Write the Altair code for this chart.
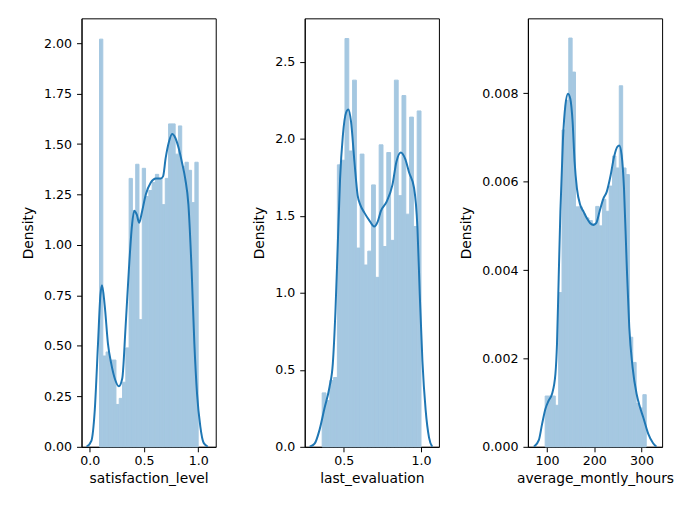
import altair as alt
import pandas as pd

# ---- histogram densities (equal-width bins over each variable's range) ----
sat_range = (0.09, 1.0)
sat_density = [2.02, 0.45, 0.47, 0.43, 0.43, 0.21, 0.24, 0.32, 0.49, 1.33,
               1.17, 1.40, 0.63, 1.38, 1.24, 1.27, 1.31, 1.35, 1.33, 1.20,
               1.33, 1.60, 1.60, 1.45, 1.59, 1.39, 1.41, 1.37, 1.21, 1.41]

eval_range = (0.36, 1.0)
eval_density = [0.35, 0.30, 0.43, 0.45, 1.83, 1.86, 2.65, 1.92, 2.38, 1.29,
                1.90, 1.18, 1.27, 1.70, 1.10, 1.96, 1.30, 1.91, 1.34, 2.38,
                1.63, 2.28, 1.51, 2.14, 1.43, 2.18]

hours_range = (96, 310)
hours_density = [0.00115, 0.00115, 0.00115, 0.00094, 0.00349, 0.00717, 0.00784,
                 0.00925, 0.00848, 0.00543, 0.00543, 0.00527, 0.00518, 0.00512,
                 0.00505, 0.00544, 0.00500, 0.00560, 0.00533, 0.00590, 0.00658,
                 0.00631, 0.00817, 0.00631, 0.00616, 0.00248, 0.00191, 0.00098,
                 0.00088, 0.00118]

# ---- kernel density estimate curves ----
sat_kde_x = [-0.03, 0.015, 0.046, 0.076, 0.098, 0.113, 0.138, 0.168, 0.199, 0.23,
             0.269, 0.30, 0.33, 0.36, 0.39, 0.41, 0.434, 0.456, 0.48, 0.517,
             0.563, 0.609, 0.655, 0.676, 0.70, 0.73, 0.76, 0.79, 0.82, 0.85,
             0.88, 0.91, 0.94, 0.965, 0.99, 1.02, 1.05, 1.09]
sat_kde_y = [0.0, 0.03, 0.18, 0.51, 0.75, 0.80, 0.70, 0.51, 0.41, 0.34,
             0.30, 0.34, 0.59, 0.87, 1.10, 1.17, 1.15, 1.11, 1.16, 1.25,
             1.31, 1.33, 1.33, 1.34, 1.43, 1.51, 1.55, 1.53, 1.48, 1.41,
             1.33, 1.20, 0.87, 0.51, 0.26, 0.10, 0.02, 0.0]

eval_kde_x = [0.279, 0.311, 0.343, 0.375, 0.408, 0.429, 0.446, 0.461, 0.476, 0.494,
              0.515, 0.53, 0.547, 0.569, 0.59, 0.607, 0.633, 0.665, 0.697, 0.719,
              0.74, 0.777, 0.815, 0.841, 0.869, 0.897, 0.923, 0.955, 0.977, 0.992,
              1.009, 1.03, 1.052, 1.073]
eval_kde_y = [0.0, 0.02, 0.11, 0.25, 0.39, 0.54, 0.88, 1.31, 1.74, 2.02,
              2.17, 2.19, 2.11, 1.85, 1.63, 1.57, 1.52, 1.47, 1.43, 1.46,
              1.53, 1.59, 1.70, 1.85, 1.91, 1.87, 1.78, 1.68, 1.42, 0.99,
              0.56, 0.24, 0.06, 0.0]

hours_kde_x = [72, 82.5, 89.5, 96.6, 103.6, 110.6, 117.7, 121, 124.6, 128.2,
               133.7, 138.7, 144.3, 149.3, 154.1, 158.3, 163.2, 170.3, 177.3, 184.3,
               191.4, 198.3, 204, 211, 219.4, 226.3, 234.7, 241.8, 248.8, 253,
               257.9, 262.9, 268.4, 274.1, 281.1, 289.5, 296.6, 303.6, 314.1, 324.6,
               331.6]
hours_kde_y = [0.0, 0.00015, 0.00052, 0.00086, 0.00105, 0.0012, 0.00165, 0.00232, 0.00382, 0.00532,
               0.00697, 0.00772, 0.00799, 0.00787, 0.00735, 0.00645, 0.00585, 0.00547, 0.00532, 0.00517,
               0.00506, 0.00502, 0.00506, 0.00532, 0.00562, 0.00577, 0.00615, 0.00656, 0.00679, 0.00682,
               0.0066, 0.00585, 0.0042, 0.0027, 0.0018, 0.0012, 0.0009, 0.00067, 0.0003, 0.00008,
               0.0]

BAR_COLOR = "#a5c8e1"
LINE_COLOR = "#1f77b4"
PANEL_W, PANEL_H = 135, 431


def dist_panel(title, rng, dens, kx, ky, xdom, xticks, xfmt, ydom, yticks, yfmt):
    n = len(dens)
    step = (rng[1] - rng[0]) / n
    hist = pd.DataFrame({
        "lo": [rng[0] + i * step for i in range(n)],
        "hi": [rng[0] + (i + 1) * step for i in range(n)],
        "base": [0.0] * n,
        "density": dens,
    })
    kde = pd.DataFrame({"value": kx, "density": ky})

    xscale = alt.Scale(domain=xdom, nice=False, zero=False)
    yscale = alt.Scale(domain=ydom, nice=False, zero=True)
    xaxis = alt.Axis(values=xticks, format=xfmt, title=title)
    yaxis = alt.Axis(values=yticks, format=yfmt, title="Density")

    bars = alt.Chart(hist).mark_rect(
        color=BAR_COLOR, opacity=1, stroke=BAR_COLOR, strokeWidth=1
    ).encode(
        x=alt.X("lo:Q", scale=xscale, axis=xaxis),
        x2="hi:Q",
        y=alt.Y("density:Q", scale=yscale, axis=yaxis),
        y2="base:Q",
    )
    curve = alt.Chart(kde).mark_line(
        color=LINE_COLOR, strokeWidth=2, interpolate="monotone", clip=True
    ).encode(
        x=alt.X("value:Q", scale=xscale, axis=xaxis),
        y=alt.Y("density:Q", scale=yscale, axis=yaxis),
    )
    return alt.layer(bars, curve).properties(width=PANEL_W, height=PANEL_H)


p1 = dist_panel("satisfaction_level", sat_range, sat_density, sat_kde_x, sat_kde_y,
                [-0.076, 1.162], [0.0, 0.5, 1.0], ".1f",
                [0, 2.123], [0, 0.25, 0.5, 0.75, 1.0, 1.25, 1.5, 1.75, 2.0], ".2f")
p2 = dist_panel("last_evaluation", eval_range, eval_density, eval_kde_x, eval_kde_y,
                [0.247, 1.116], [0.5, 1.0], ".1f",
                [0, 2.781], [0, 0.5, 1.0, 1.5, 2.0, 2.5], ".1f")
p3 = dist_panel("average_montly_hours", hours_range, hours_density, hours_kde_x, hours_kde_y,
                [59.4, 343.6], [100, 200, 300], "d",
                [0, 0.009696], [0, 0.002, 0.004, 0.006, 0.008], ".3f")

chart = alt.hconcat(p1, p2, p3, spacing=89.5, bounds="flush").resolve_scale(
    x="independent", y="independent"
).properties(
    padding={"left": 20, "top": 16, "right": 5, "bottom": 5},
    background="white",
).configure_view(
    stroke="black", strokeWidth=1
).configure_axis(
    grid=False,
    domainColor="black",
    domainWidth=1,
    tickColor="black",
    tickWidth=1,
    tickSize=5,
    labelFont="DejaVu Sans",
    labelFontSize=12.7,
    labelColor="black",
    labelPadding=5,
    titleFont="DejaVu Sans",
    titleFontSize=13.9,
    titleFontWeight="normal",
    titleColor="black",
).configure_axisX(
    labelPadding=3,
    titlePadding=4,
).configure_axisY(
    titlePadding=8.5,
)

chart.save("out.html", embed_options={"renderer": "svg", "actions": False})
